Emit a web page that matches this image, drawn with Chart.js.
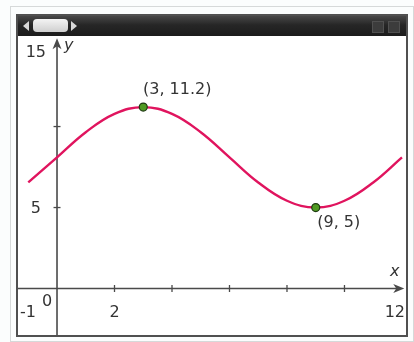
<!DOCTYPE html>
<html>
<head>
<meta charset="utf-8">
<script src="https://cdn.jsdelivr.net/npm/chart.js@4.4.1/dist/chart.umd.min.js"></script>
<style>
  html, body { margin: 0; padding: 0; background: #fbfdfd; }
  #page { position: relative; width: 414px; height: 342px; overflow: hidden; }
  #outer { position: absolute; left: 10px; top: 6px; width: 402px; height: 334px; border: 1px solid #d6d9d9; }
  #frame { position: absolute; left: 16px; top: 14px; width: 392px; height: 323px; border: 2px solid #505050; box-sizing: border-box; background: #fff; }
  #bar { position: absolute; left: 18px; top: 16px; width: 388px; height: 20px; background: linear-gradient(#474747, #262626 45%, #1c1c1c); }
  .arr { position: absolute; top: 21px; width: 0; height: 0; border-top: 5px solid transparent; border-bottom: 5px solid transparent; }
  #arrL { left: 23px; border-right: 6px solid #d8d8d8; }
  #arrR { left: 71px; border-left: 6px solid #d8d8d8; }
  #thumb { position: absolute; left: 33px; top: 19px; width: 35px; height: 13px; border-radius: 4px; background: linear-gradient(#f4f4f4, #cfcfcf); }
  .ico { position: absolute; top: 21px; width: 10px; height: 10px; background: #3c3c3c; border: 1px solid #505050; }
  #wrap { position: absolute; left: 18px; top: 36px; width: 388px; height: 299px; }
</style>
</head>
<body>
<div id="page">
  <div id="outer"></div>
  <div id="frame"></div>
  <div id="bar"></div>
  <div class="arr" id="arrL"></div>
  <div id="thumb"></div>
  <div class="arr" id="arrR"></div>
  <div class="ico" style="left:372px"></div>
  <div class="ico" style="left:388px"></div>
  <div id="wrap"><canvas id="graph" width="388" height="299"></canvas></div>
</div>
<script>
// curve samples, read per unit of x
const xs = [-1, 0, 1, 2, 3, 4, 5, 6, 7, 8, 9, 10, 11, 12];
const ys = [6.55, 8.1, 9.65, 10.78, 11.2, 10.78, 9.65, 8.1, 6.55, 5.42, 5.0, 5.42, 6.55, 8.1];

// highlighted turning points
const markX = [3, 9];
const markY = [11.2, 5];

// axis tick values and window edge labels
const xTicks = [2, 4, 6, 8, 10];
const yTicks = [5, 10];
const xEdgeLabels = ['-1', '12'];
const yEdgeLabel = '15';

const axisColor = '#4a4a4a';
const textColor = '#333';
const font = '16px "DejaVu Sans", sans-serif';
const italicFont = 'italic 16px "DejaVu Sans", sans-serif';

const curve = xs.map((x, i) => ({ x: x, y: ys[i] }));
const marks = markX.map((x, i) => ({ x: x, y: markY[i] }));

const axesPlugin = {
  id: 'calcAxes',
  beforeDatasetsDraw(chart) {
    const c = chart.ctx, sx = chart.scales.x, sy = chart.scales.y;
    const ox = sx.getPixelForValue(0), oy = sy.getPixelForValue(0);
    const right = sx.getPixelForValue(12.08), top = sy.getPixelForValue(15.45);
    c.save();
    c.strokeStyle = axisColor;
    c.fillStyle = axisColor;
    c.lineWidth = 1.6;
    // x axis
    c.beginPath();
    c.moveTo(0, oy); c.lineTo(right - 6, oy);
    c.stroke();
    c.beginPath();
    c.moveTo(right, oy); c.lineTo(right - 11, oy - 4.5); c.lineTo(right - 8, oy); c.lineTo(right - 11, oy + 4.5);
    c.closePath(); c.fill();
    // y axis
    c.beginPath();
    c.moveTo(ox, chart.height); c.lineTo(ox, top + 6);
    c.stroke();
    c.beginPath();
    c.moveTo(ox, top); c.lineTo(ox - 4.5, top + 11); c.lineTo(ox, top + 8); c.lineTo(ox + 4.5, top + 11);
    c.closePath(); c.fill();
    // ticks
    c.lineWidth = 1.3;
    xTicks.forEach(v => {
      const px = sx.getPixelForValue(v);
      c.beginPath(); c.moveTo(px, oy - 3.5); c.lineTo(px, oy + 3.5); c.stroke();
    });
    yTicks.forEach(v => {
      const py = sy.getPixelForValue(v);
      c.beginPath(); c.moveTo(ox - 3.5, py); c.lineTo(ox + 3.5, py); c.stroke();
    });
    c.restore();
  },
  afterDatasetsDraw(chart) {
    const c = chart.ctx, sx = chart.scales.x, sy = chart.scales.y;
    const ox = sx.getPixelForValue(0), oy = sy.getPixelForValue(0);
    c.save();
    c.fillStyle = textColor;
    c.font = font;
    c.textBaseline = 'middle';
    // y axis labels
    c.textAlign = 'right';
    c.fillText(yEdgeLabel, ox - 11, sy.getPixelForValue(15) + 7);
    c.fillText(String(yTicks[0]), ox - 16, sy.getPixelForValue(yTicks[0]) + 1);
    // x axis labels
    c.textAlign = 'center';
    c.fillText(String(xTicks[0]), sx.getPixelForValue(xTicks[0]), oy + 24);
    c.textAlign = 'left';
    c.fillText(xEdgeLabels[0], 2, oy + 24);
    c.fillText('0', ox - 15, oy + 13);
    c.textAlign = 'right';
    c.fillText(xEdgeLabels[1], chart.width - 1, oy + 24);
    // axis names
    c.font = italicFont;
    c.textAlign = 'left';
    c.fillText('y', ox + 7, sy.getPixelForValue(15));
    c.textAlign = 'center';
    c.fillText('x', sx.getPixelForValue(11.75), oy - 17);
    // point coordinates
    c.font = font;
    c.textAlign = 'center';
    c.fillText('(' + markX[0] + ', ' + markY[0] + ')', sx.getPixelForValue(markX[0]) + 34, sy.getPixelForValue(markY[0]) - 17);
    c.fillText('(' + markX[1] + ', ' + markY[1] + ')', sx.getPixelForValue(markX[1]) + 23, sy.getPixelForValue(markY[1]) + 15);
    c.restore();
  }
};

new Chart(document.getElementById('graph'), {
  type: 'line',
  data: {
    datasets: [{
      data: curve,
      borderColor: '#e0145e',
      borderWidth: 2.4,
      pointRadius: 0,
      tension: 0.4,
      fill: false,
      order: 2
    }, {
      type: 'scatter',
      data: marks,
      pointRadius: 4,
      pointBackgroundColor: '#4f9a22',
      pointBorderColor: '#1f3a12',
      pointBorderWidth: 1.2,
      order: 1
    }]
  },
  options: {
    responsive: false,
    animation: false,
    layout: { padding: 0, autoPadding: false },
    plugins: { legend: { display: false }, tooltip: { enabled: false } },
    scales: {
      x: { type: 'linear', min: -1.357, max: 12.14, display: false },
      y: { type: 'linear', min: -2.87, max: 15.59, display: false }
    }
  },
  plugins: [axesPlugin]
});
</script>
</body>
</html>
